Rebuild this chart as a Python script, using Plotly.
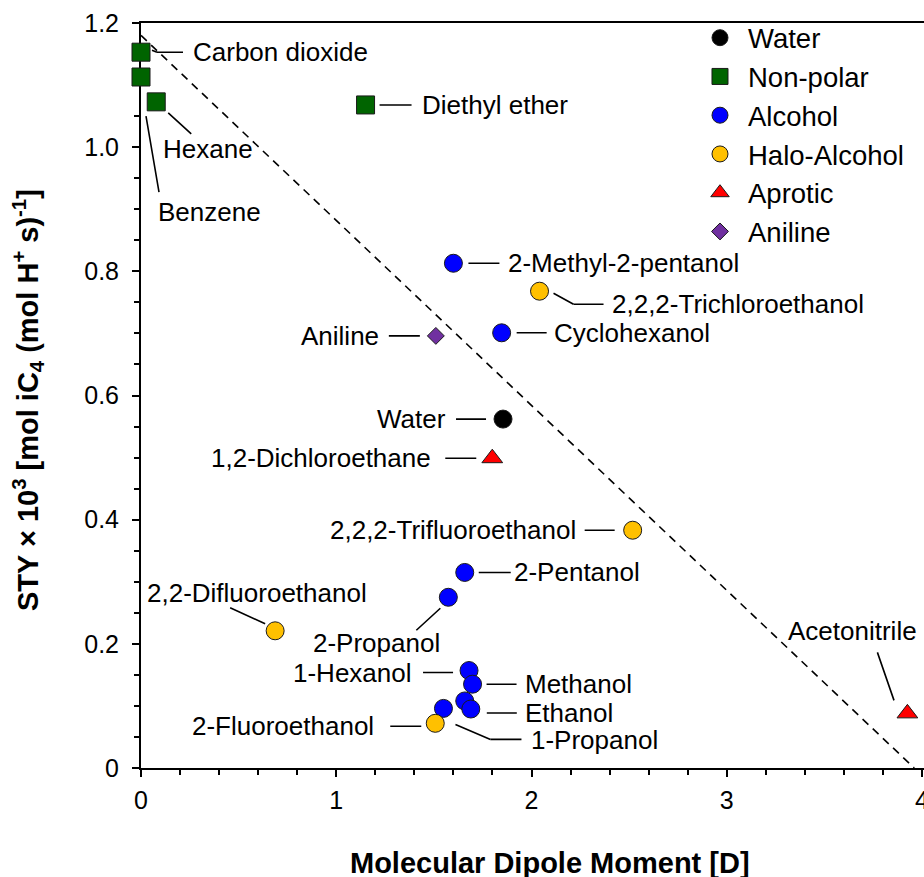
import plotly.graph_objects as go

# ---------------- data ----------------
water_names = ["Water"]
water_x = [1.854]
water_y = [0.562]

nonpolar_names = ["Carbon dioxide", "Benzene", "Hexane", "Diethyl ether"]
nonpolar_x = [0.0, 0.0, 0.078, 1.15]
nonpolar_y = [1.153, 1.113, 1.073, 1.068]

alcohol_names = ["2-Methyl-2-pentanol", "Cyclohexanol", "2-Pentanol", "2-Propanol",
                 "1-Hexanol", "Methanol", "", "Ethanol", "1-Propanol"]
alcohol_x = [1.600, 1.847, 1.658, 1.574, 1.680, 1.698, 1.658, 1.689, 1.549]
alcohol_y = [0.813, 0.701, 0.315, 0.275, 0.157, 0.135, 0.108, 0.095, 0.096]

halo_names = ["2,2,2-Trichloroethanol", "2,2,2-Trifluoroethanol",
              "2,2-Difluoroethanol", "2-Fluoroethanol"]
halo_x = [2.041, 2.518, 0.687, 1.507]
halo_y = [0.768, 0.383, 0.221, 0.072]

aprotic_names = ["1,2-Dichloroethane", "Acetonitrile"]
aprotic_x = [1.799, 3.925]
aprotic_y = [0.499, 0.088]

aniline_names = ["Aniline"]
aniline_x = [1.510]
aniline_y = [0.696]

fit_x = [0.0, 3.96]
fit_y = [1.18, 0.0]

x_tickvals = [0, 1, 2, 3, 4]
x_ticktext = ["0", "1", "2", "3", "4"]
y_tickvals = [0, 0.2, 0.4, 0.6, 0.8, 1.0, 1.2]
y_ticktext = ["0", "0.2", "0.4", "0.6", "0.8", "1.0", "1.2"]

# ---------------- label placement (pixel offsets from the point, y down) ----------------
label_style = {
    "Carbon dioxide": dict(pos=(52, 0), anchor="left", segs=[(11, -2, 16, 0), (16, 0, 42, 0)]),
    "Diethyl ether": dict(pos=(56, 0), anchor="left", segs=[(14, 0, 46, 0)]),
    "Hexane": dict(pos=(7, 47), anchor="left", segs=[(12, 11, 35, 32)]),
    "Benzene": dict(pos=(17, 135), anchor="left", segs=[(5, 39, 18, 115)]),
    "2-Methyl-2-pentanol": dict(pos=(55, 0), anchor="left", segs=[(15, 0, 46, 0)]),
    "2,2,2-Trichloroethanol": dict(pos=(72, 13), anchor="left", segs=[(14, 2, 34, 13), (34, 13, 64, 13)]),
    "Aniline": dict(pos=(-57, 0), anchor="right", segs=[(-47, 0, -16, 0)]),
    "Cyclohexanol": dict(pos=(52, 0), anchor="left", segs=[(15, 0, 45, 0)]),
    "Water": dict(pos=(-57, 0), anchor="right", segs=[(-47, 0, -17, 0)]),
    "1,2-Dichloroethane": dict(pos=(-61, 0), anchor="right", segs=[(-47, 0, -16, 0)]),
    "2,2,2-Trifluoroethanol": dict(pos=(-57, 0), anchor="right", segs=[(-48, 0, -18, 0)]),
    "2-Pentanol": dict(pos=(49, 0), anchor="left", segs=[(14, 0, 46, 0)]),
    "2-Propanol": dict(pos=(-72, 46), anchor="center", segs=[(-8, 11, -32, 33)]),
    "2,2-Difluoroethanol": dict(pos=(-18, -38), anchor="center", segs=[(-45, -23, -10, -7)]),
    "1-Hexanol": dict(pos=(-57, 2), anchor="right", segs=[(-46, 2, -16, 2)]),
    "Methanol": dict(pos=(52, 0), anchor="left", segs=[(14, 0, 44, 0)]),
    "Ethanol": dict(pos=(54, 4), anchor="left", segs=[(16, 4, 46, 4)]),
    "1-Propanol": dict(pos=(88, 32), anchor="left", segs=[(12, 16, 47, 31), (47, 31, 78, 31)]),
    "2-Fluoroethanol": dict(pos=(-61, 3), anchor="right", segs=[(-45, 3, -14, 3)]),
    "Acetonitrile": dict(pos=(-55, -82), anchor="center", segs=[(-11, -13, -30, -61)]),
}

FONT = "Liberation Sans, Arial, sans-serif"

fig = go.Figure()

fig.add_trace(go.Scatter(x=fit_x, y=fit_y, mode="lines", showlegend=False,
                         line=dict(color="black", width=1.6, dash="8px,6px"),
                         hoverinfo="skip", cliponaxis=False))

groups = [
    ("Water", water_names, water_x, water_y, "circle", "#000000", 18),
    ("Non-polar", nonpolar_names, nonpolar_x, nonpolar_y, "square", "#006400", 18),
    ("Alcohol", alcohol_names, alcohol_x, alcohol_y, "circle", "#0000FF", 18),
    ("Halo-Alcohol", halo_names, halo_x, halo_y, "circle", "#FFC000", 18),
    ("Aprotic", aprotic_names, aprotic_x, aprotic_y, "triangle-up", "#FF0000", 18),
    ("Aniline", aniline_names, aniline_x, aniline_y, "diamond", "#7030A0", 13),
]

annotations = []
for gname, names, xs, ys, sym, col, size in groups:
    fig.add_trace(go.Scatter(
        x=xs, y=ys, mode="markers", name=gname, text=names, cliponaxis=False,
        marker=dict(symbol=sym, color=col, size=size,
                    line=dict(color="#1a1a1a", width=1))))
    for n, xv, yv in zip(names, xs, ys):
        if not n or n not in label_style:
            continue
        st = label_style[n]
        dx, dy = st["pos"]
        annotations.append(dict(
            x=xv, y=yv, xref="x", yref="y", text=n, showarrow=False,
            xshift=dx, yshift=-dy, xanchor=st["anchor"], yanchor="middle",
            borderpad=0, borderwidth=0,
            font=dict(family=FONT, size=26, color="black")))
        for (x1, y1, x2, y2) in st["segs"]:
            annotations.append(dict(
                x=xv, y=yv, xref="x", yref="y", text=" ", showarrow=True,
                xshift=x2, yshift=-y2, ax=x1 - x2, ay=y1 - y2,
                arrowhead=0, arrowwidth=1.6, arrowcolor="black",
                standoff=0, startstandoff=0, borderpad=0, borderwidth=0,
                font=dict(size=1)))

# axis titles
annotations.append(dict(
    text="<b>Molecular Dipole Moment [D]</b>", xref="paper", yref="paper",
    x=0.522, y=0, yshift=-95, xanchor="center", yanchor="middle", showarrow=False,
    font=dict(family=FONT, size=29, color="black")))
annotations.append(dict(
    text="<b>STY × 10<sup>3</sup> [mol iC<sub>4</sub> (mol H<sup>+</sup> s)<sup>-1</sup>]</b>",
    xref="paper", yref="paper", x=0, y=0.494, xshift=-113, textangle=-90,
    xanchor="center", yanchor="middle", showarrow=False,
    font=dict(family=FONT, size=29, color="black")))

fig.update_layout(
    width=924, height=877,
    margin=dict(l=141, r=0, t=23, b=109),
    paper_bgcolor="white", plot_bgcolor="white",
    font=dict(family=FONT, color="black"),
    showlegend=True,
    legend=dict(x=0.7037, y=1.013, xanchor="left", yanchor="top",
                bgcolor="rgba(0,0,0,0)", borderwidth=0,
                font=dict(family=FONT, size=27.5, color="black"),
                itemwidth=46, tracegroupgap=0),
    annotations=annotations,
    xaxis=dict(range=[0, 4.01], showgrid=False, zeroline=False,
               showline=True, linecolor="black", linewidth=2, mirror=True,
               ticks="outside", ticklen=7, tickwidth=1.6, tickcolor="black",
               tickvals=x_tickvals, ticktext=x_ticktext,
               tickfont=dict(family=FONT, size=25, color="black"),
               ticklabelstandoff=2, ticklabeloverflow="allow",
               minor=dict(dtick=0.2, ticks="outside", ticklen=5, tickwidth=1.6, tickcolor="black"),
               automargin=False, layer="below traces"),
    yaxis=dict(range=[0, 1.2], showgrid=False, zeroline=False,
               showline=True, linecolor="black", linewidth=2, mirror=False,
               ticks="outside", ticklen=7, tickwidth=1.6, tickcolor="black",
               tickvals=y_tickvals, ticktext=y_ticktext,
               tickfont=dict(family=FONT, size=25, color="black"),
               ticklabelstandoff=8,
               minor=dict(dtick=0.05, ticks="outside", ticklen=5, tickwidth=1.6, tickcolor="black"),
               automargin=False, layer="below traces"),
)

fig.write_html("out.html")
